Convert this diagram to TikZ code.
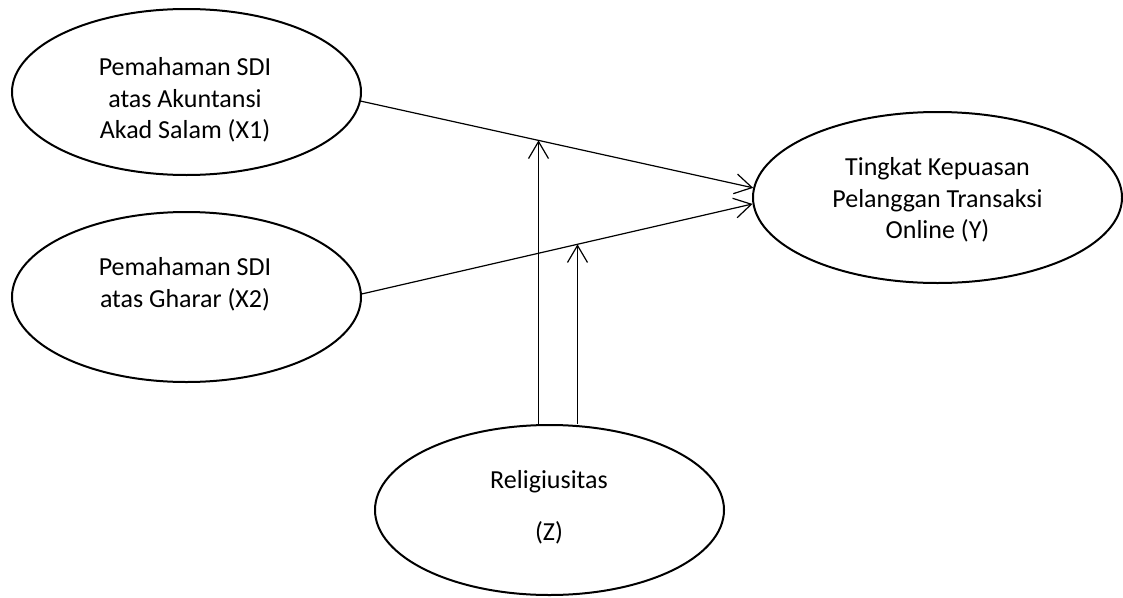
\documentclass[tikz,border=0pt]{standalone}
\usepackage{fontspec}
\setmainfont{Carlito}
\usetikzlibrary{shapes.geometric,arrows.meta,calc}
\begin{document}
\begin{tikzpicture}[x=1pt,y=-1pt,
  var/.style={draw,ellipse,line width=2pt,inner sep=0pt},
  txt/.style={align=center,font=\fontsize{26}{31.7}\selectfont,inner sep=0pt},
  conn/.style={line width=1.2pt,-{Straight Barb[length=17pt,width=20pt,line width=1.2pt]}}]
\useasboundingbox (0,0) rectangle (1123,597);
\fill[white] (0,0) rectangle (1123,597);
% ellipses
\node[var,minimum width=349pt,minimum height=166pt] (x1) at (186.5,92) {};
\node[var,minimum width=349pt,minimum height=170pt] (x2) at (186.5,297) {};
\node[var,minimum width=369pt,minimum height=171pt] (y) at (937.5,197.5) {};
\node[var,minimum width=349pt,minimum height=170pt] (z) at (549.5,510) {};
% texts
\node[txt] (x1t) at (185,100) {Pemahaman SDI\\atas Akuntansi\\Akad Salam (X1)};
\node[txt] (x2t) at (185,284.5) {Pemahaman SDI\\atas Gharar (X2)};
\node[txt] (yt) at (937.5,200) {Tingkat Kepuasan\\Pelanggan Transaksi\\Online (Y)};
\node[txt] (zt) at (549,507.5) {Religiusitas\\[20pt](Z)};
% connectors
\coordinate (a1) at (x1.-3);
\coordinate (b1) at (y.177);
\coordinate (a2) at (x2.1);
\coordinate (b2) at (y.182);
\coordinate (v1) at (538.5,0);
\coordinate (v2) at (538.5,600);
\coordinate (w1) at (577.5,0);
\coordinate (w2) at (577.5,600);
\coordinate (m1) at (intersection of a1--b1 and v1--v2);
\coordinate (m2) at (intersection of a2--b2 and w1--w2);
\draw[conn] (a1) -- (b1);
\draw[conn] (a2) -- (b2);
\draw[conn] (m1 |- z.north) -- (m1);
\draw[conn] (m2 |- z.north) -- (m2);
\end{tikzpicture}
\end{document}
